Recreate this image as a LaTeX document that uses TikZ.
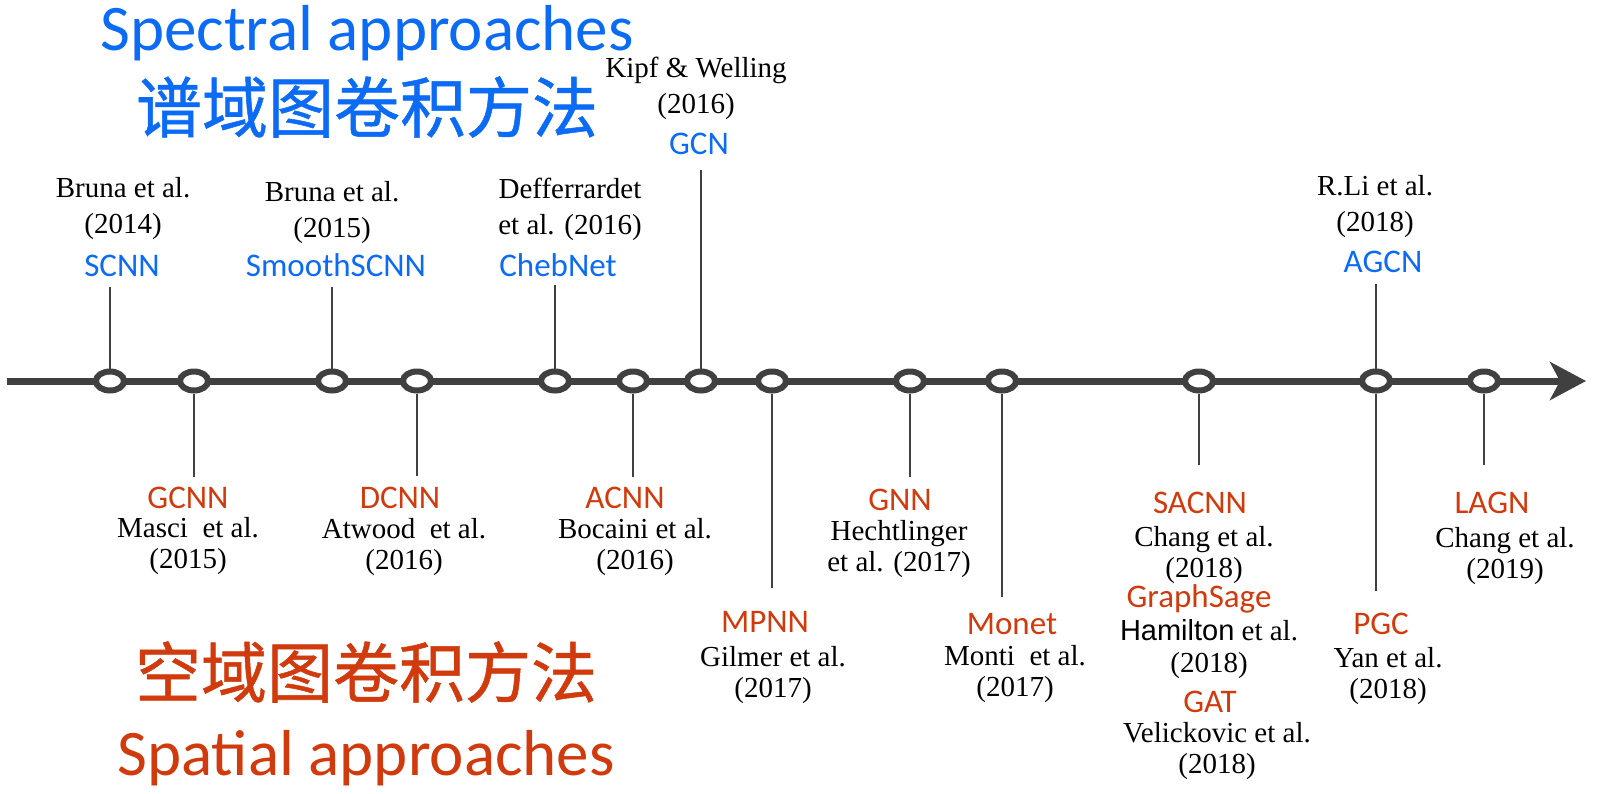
\documentclass[tikz,border=0pt]{standalone}
\usepackage{fontspec}
\setmainfont{Liberation Serif}
\newfontfamily\lblfont{Carlito}
\newfontfamily\hamfont{Liberation Sans}
\newfontfamily\cjkfont[FakeBold=0.8]{Noto Sans CJK SC}
\usepackage{tikz}
\usetikzlibrary{shapes.geometric,arrows.meta}
\definecolor{linegrey}{HTML}{404040}
\definecolor{specblue}{HTML}{0B6BF5}
\definecolor{spatred}{HTML}{D03A0C}

\begin{document}
\begin{tikzpicture}[x=0.5pt,y=-0.5pt]
                \tikzstyle{timeline} = [draw=linegrey, line width=3.5pt, -{Stealth[length=18pt, width=19pt, inset=5pt]}]
                \tikzstyle{event} = [ellipse, draw=linegrey, line width=3pt, fill=white, minimum width=14pt, minimum height=9.5pt, inner sep=0pt]
                \tikzstyle{stem} = [draw=linegrey, line width=1.2pt]
                \tikzstyle{spectral} = [font=\lblfont\fontsize{16.5}{19}\selectfont, text=specblue, inner sep=0pt, text height=10.4pt, text depth=0pt]
                \tikzstyle{spatial} = [font=\lblfont\fontsize{16.5}{19}\selectfont, text=spatred, inner sep=0pt, text height=10.4pt, text depth=0pt]
                \tikzstyle{citeup} = [font=\fontsize{14.5}{18}\selectfont, align=center, inner sep=0pt]
                \tikzstyle{citedown} = [font=\fontsize{14.5}{15.8}\selectfont, align=center, inner sep=0pt]
                \tikzstyle{bigtitle} = [font=\lblfont\fontsize{32.5}{36}\selectfont, inner sep=0pt]
                \tikzstyle{cjktitle} = [font=\cjkfont\fontsize{33}{36}\selectfont, inner sep=0pt]
                \useasboundingbox (0,0) rectangle (1598,793);

                \node (spectitle) [bigtitle, text=specblue, anchor=base] at (367,50) {Spectral approaches};
                \node (speccjk) [cjktitle, text=specblue] at (367,107) {谱域图卷积方法};
                \node (spatcjk) [cjktitle, text=spatred] at (366,672) {空域图卷积方法};
                \node (spattitle) [bigtitle, text=spatred, anchor=base] at (366,775) {Spatial approaches};

                \coordinate (start) at (7,381);
                \coordinate (tip) at (1586,381);
                \draw [timeline] (start) -- (tip);

                \node (scnn) [event] at (110,381) {};
                \node (gcnn) [event] at (194,381) {};
                \node (smooth) [event] at (332,381) {};
                \node (dcnn) [event] at (417,381) {};
                \node (cheb) [event] at (555,381) {};
                \node (acnn) [event] at (633,381) {};
                \node (gcn) [event] at (701,381) {};
                \node (mpnn) [event] at (772,381) {};
                \node (gnn) [event] at (910,381) {};
                \node (monet) [event] at (1002,381) {};
                \node (sacnn) [event] at (1199,381) {};
                \node (agcn) [event] at (1376,381) {};
                \node (lagn) [event] at (1484,381) {};

                \coordinate (scnntop) at (110,287);
                \coordinate (smoothtop) at (332,287);
                \coordinate (chebtop) at (555,285);
                \coordinate (gcntop) at (701,170);
                \coordinate (agcntop) at (1376,284);
                \coordinate (gcnnbot) at (194,477);
                \coordinate (dcnnbot) at (417,476);
                \coordinate (acnnbot) at (633,477);
                \coordinate (mpnnbot) at (772,588);
                \coordinate (gnnbot) at (910,477);
                \coordinate (monetbot) at (1002,597);
                \coordinate (sacnnbot) at (1199,465);
                \coordinate (pgcbot) at (1376,591);
                \coordinate (lagnbot) at (1484,465);

                \draw [stem] (scnn.north) -- (scnntop);
                \draw [stem] (smooth.north) -- (smoothtop);
                \draw [stem] (cheb.north) -- (chebtop);
                \draw [stem] (gcn.north) -- (gcntop);
                \draw [stem] (agcn.north) -- (agcntop);
                \draw [stem] (gcnn.south) -- (gcnnbot);
                \draw [stem] (dcnn.south) -- (dcnnbot);
                \draw [stem] (acnn.south) -- (acnnbot);
                \draw [stem] (mpnn.south) -- (mpnnbot);
                \draw [stem] (gnn.south) -- (gnnbot);
                \draw [stem] (monet.south) -- (monetbot);
                \draw [stem] (sacnn.south) -- (sacnnbot);
                \draw [stem] (agcn.south) -- (pgcbot);
                \draw [stem] (lagn.south) -- (lagnbot);

                \node (scnnlbl) [spectral] at (122,266) {SCNN};
                \node (scnncite) [citeup] at (123,209) {Bruna et al.\\(2014)};
                \node (smoothlbl) [spectral] at (336,266) {SmoothSCNN};
                \node (smoothcite) [citeup] at (332,213) {Bruna et al.\\(2015)};
                \node (cheblbl) [spectral] at (558,266) {ChebNet};
                \node (chebcite) [citeup] at (570,209) {Defferrardet\\et al. (2016)};
                \node (gcnlbl) [spectral] at (699,144) {GCN};
                \node (gcncite) [citeup] at (696,88) {Kipf \& Welling\\(2016)};
                \node (agcnlbl) [spectral] at (1383,262) {AGCN};
                \node (agcncite) [citeup] at (1375,207) {R.Li et al.\\(2018)};

                \node (gcnnlbl) [spatial] at (188,498) {GCNN};
                \node (gcnncite) [citedown] at (188,546) {Masci~ et al.\\(2015)};
                \node (dcnnlbl) [spatial] at (400,498) {DCNN};
                \node (dcnncite) [citedown] at (404,547) {Atwood~ et al.\\(2016)};
                \node (acnnlbl) [spatial] at (625,498) {ACNN};
                \node (acnncite) [citedown] at (635,547) {Bocaini et al.\\(2016)};
                \node (mpnnlbl) [spatial] at (765,622) {MPNN};
                \node (mpnncite) [citedown] at (773,675) {Gilmer et al.\\(2017)};
                \node (gnnlbl) [spatial] at (900,500) {GNN};
                \node (gnncite) [citedown] at (899,549) {Hechtlinger\\et al. (2017)};
                \node (monetlbl) [spatial] at (1012,624) {Monet};
                \node (monetcite) [citedown] at (1015,674) {Monti~ et al.\\(2017)};
                \node (sacnnlbl) [spatial] at (1200,503) {SACNN};
                \node (sacnncite) [citedown] at (1204,555) {Chang et al.\\(2018)};
                \node (sagelbl) [spatial] at (1199,597) {GraphSage};
                \node (sagecite) [citedown] at (1209,649) {{\hamfont Hamilton} et al.\\(2018)};
                \node (gatlbl) [spatial] at (1210,702) {GAT};
                \node (gatcite) [citedown] at (1217,751) {Velickovic et al.\\(2018)};
                \node (pgclbl) [spatial] at (1381,624) {PGC};
                \node (pgccite) [citedown] at (1388,676) {Yan et al.\\(2018)};
                \node (lagnlbl) [spatial] at (1492,503) {LAGN};
                \node (lagncite) [citedown] at (1505,556) {Chang et al.\\(2019)};
            \end{tikzpicture}
\end{document}
